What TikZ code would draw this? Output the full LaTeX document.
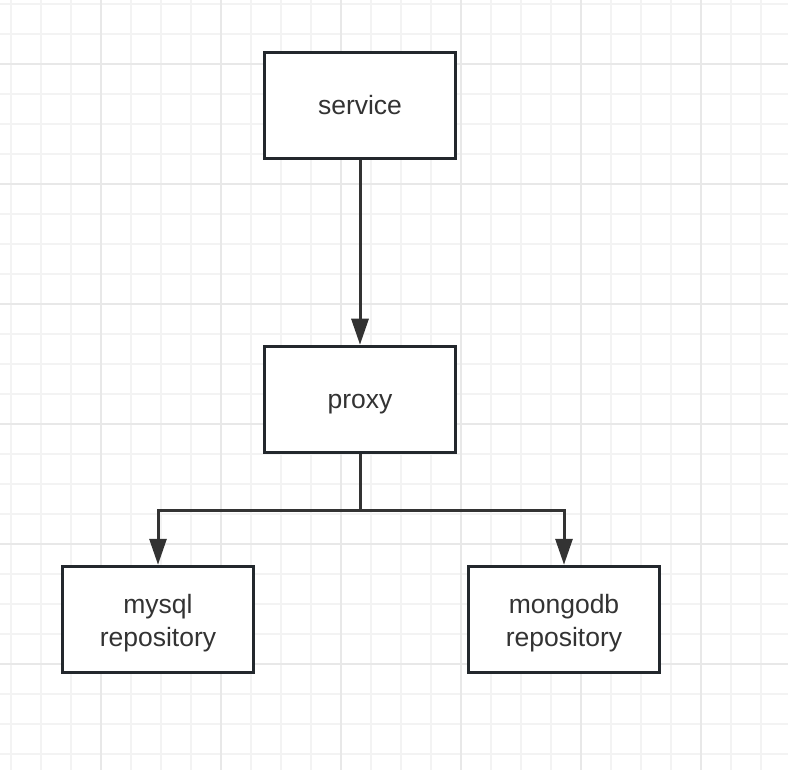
\documentclass[tikz,border=0pt]{standalone}
\usepackage{fontspec}
\setmainfont{Liberation Sans}
\usetikzlibrary{arrows.meta}
\definecolor{boxline}{HTML}{23282D}
\definecolor{conncol}{HTML}{333333}
\definecolor{txt}{HTML}{333333}
\definecolor{gridminor}{HTML}{F3F3F3}
\definecolor{gridmajor}{HTML}{E8E8E8}
\tikzset{
  minorline/.style={draw=gridminor, line width=1.5pt},
  majorline/.style={draw=gridmajor, line width=1.8pt},
  boxnode/.style={draw=boxline, line width=3.5pt, fill=white, minimum width=191pt, minimum height=106pt, inner sep=0pt, text=txt, align=center, text height=19pt, text depth=0pt, font=\fontsize{26.5}{32.5}\selectfont},
  twoline/.style={text height=, text depth=},
  conn/.style={draw=conncol, line width=3pt, -{Triangle[length=26pt,width=17pt]}},
  connplain/.style={draw=conncol, line width=3pt}
}
\begin{document}
\begin{tikzpicture}[x=1pt,y=-1pt]
\fill[white] (0,0) rectangle (788,770);
\useasboundingbox (0,0) rectangle (788,770);
\foreach \x in {11,41,...,781} \draw[minorline] (\x,0) -- (\x,770);
\foreach \y in {4,34,...,764} \draw[minorline] (0,\y) -- (788,\y);
\foreach \x in {101,221,...,701} \draw[majorline] (\x,0) -- (\x,770);
\foreach \y in {64,184,...,664} \draw[majorline] (0,\y) -- (788,\y);

\node[boxnode] (service) at (360,105.5) {service};
\node[boxnode] (proxy) at (360,399.5) {proxy};
\node[boxnode, twoline] (mysql) at (158,619.5) {\rule{0pt}{26pt}mysql\\repository};
\node[boxnode, twoline] (mongo) at (564,619.5) {\rule{0pt}{26pt}mongodb\\repository};
\coordinate (split) at (360,510);

\draw[conn] (service.south) -- (proxy.north);
\draw[connplain] (proxy.south) -- (split);
\draw[conn] (split) -| (mysql.north);
\draw[conn] (split) -| (mongo.north);
\end{tikzpicture}
\end{document}
